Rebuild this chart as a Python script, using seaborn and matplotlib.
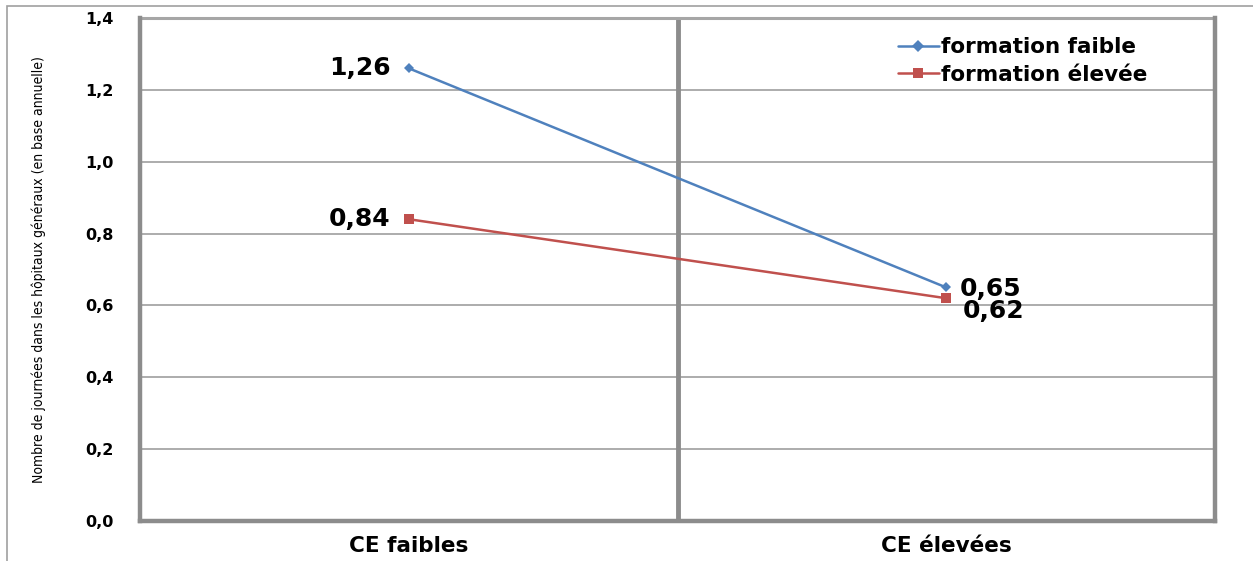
import matplotlib
matplotlib.use("Agg")
import matplotlib.pyplot as plt
from matplotlib.patches import Rectangle
import seaborn as sns
import pandas as pd

categories = ["CE faibles", "CE élevées"]
series_names = ["formation faible", "formation élevée"]
faible_values = [1.26, 0.65]
elevee_values = [0.84, 0.62]
y_ticks = [0.0, 0.2, 0.4, 0.6, 0.8, 1.0, 1.2, 1.4]
y_label = "Nombre de journées dans les hôpitaux généraux (en base annuelle)"

df = pd.DataFrame({
    "cat": categories * 2,
    "val": faible_values + elevee_values,
    "serie": [series_names[0]] * 2 + [series_names[1]] * 2,
})

sns.set_style("white")
plt.rcParams["font.family"] = ["DejaVu Sans"]
plt.rcParams["text.color"] = "black"
plt.rcParams["xtick.labelcolor"] = "black"
plt.rcParams["ytick.labelcolor"] = "black"

W, H = 1253, 561
fig = plt.figure(figsize=(W / 100, H / 100), dpi=100)
ax = fig.add_axes([140 / W, (H - 521) / H, (1215 - 140) / W, (521 - 18) / H])

blue = "#4F81BD"
red = "#C0504D"
grid_c = "#a6a6a6"
axis_c = "#8c8c8c"

sns.lineplot(data=df, x="cat", y="val", hue="serie", style="serie",
             palette={series_names[0]: blue, series_names[1]: red},
             markers={series_names[0]: "D", series_names[1]: "s"},
             dashes=False, linewidth=1.8, markersize=6.5,
             markeredgewidth=0, ax=ax, legend=True, sort=False)
# smaller diamond for the first series
ax.lines[0].set_markersize(5)

condensed = dict(family="DejaVu Sans", stretch="condensed")

ax.set_xlim(-0.5, 1.5)
ax.set_ylim(0, 1.4)
ax.set_yticks(y_ticks)
ax.set_yticklabels([f"{t:.1f}".replace(".", ",") for t in y_ticks],
                   fontsize=11.5, fontweight="bold", color="black")
ax.set_xticks([0, 1])
ax.set_xticklabels(categories, fontsize=15.5, fontweight="bold",
                   color="black")
ax.set_xticks([-0.5, 0.5, 1.5], minor=True)
ax.tick_params(axis="x", which="major", length=0, pad=11)
ax.tick_params(axis="x", which="minor", length=6, width=4, color=axis_c,
               direction="out")
ax.tick_params(axis="y", length=7, width=3, color=axis_c, pad=12)
ax.set_xlabel("")
ax.set_ylabel(y_label, fontsize=10, labelpad=28, color="black", **condensed)

for t in y_ticks[1:]:
    ax.axhline(t, color=grid_c, lw=1.3, zorder=0)
ax.axvline(0.5, color=axis_c, lw=3.5, zorder=1)

for side in ["left", "bottom", "right"]:
    ax.spines[side].set_visible(True)
    ax.spines[side].set_color(axis_c)
    ax.spines[side].set_linewidth(3.2)
ax.spines["top"].set_visible(False)
ax.axhline(1.4, color=grid_c, lw=2.2, zorder=1, clip_on=False)

lab_kw = dict(fontsize=18, fontweight="bold", color="black")
ax.annotate("1,26", (0, faible_values[0]), xytext=(-13, 0),
            textcoords="offset points", ha="right", va="center", **lab_kw)
ax.annotate("0,84", (0, elevee_values[0]), xytext=(-13, 0),
            textcoords="offset points", ha="right", va="center", **lab_kw)
ax.annotate("0,65", (1, faible_values[1]), xytext=(10, -1),
            textcoords="offset points", ha="left", va="center", **lab_kw)
ax.annotate("0,62", (1, elevee_values[1]), xytext=(12, -9),
            textcoords="offset points", ha="left", va="center", **lab_kw)

handles, labels = ax.get_legend_handles_labels()
ax.legend(handles, labels, loc="upper right", bbox_to_anchor=(0.955, 1.0),
          frameon=False, prop={"weight": "bold", "size": 15.5},
          handlelength=1.9, handletextpad=0.1, labelspacing=0.35)

# outer chart frame
fig.patches.append(Rectangle((7 / W, -0.1), 1.2, (H - 6) / H + 0.1,
                             transform=fig.transFigure, fill=False,
                             edgecolor="#a0a0a0", lw=1.2, zorder=-1))

fig.savefig("out.png", dpi=100)
